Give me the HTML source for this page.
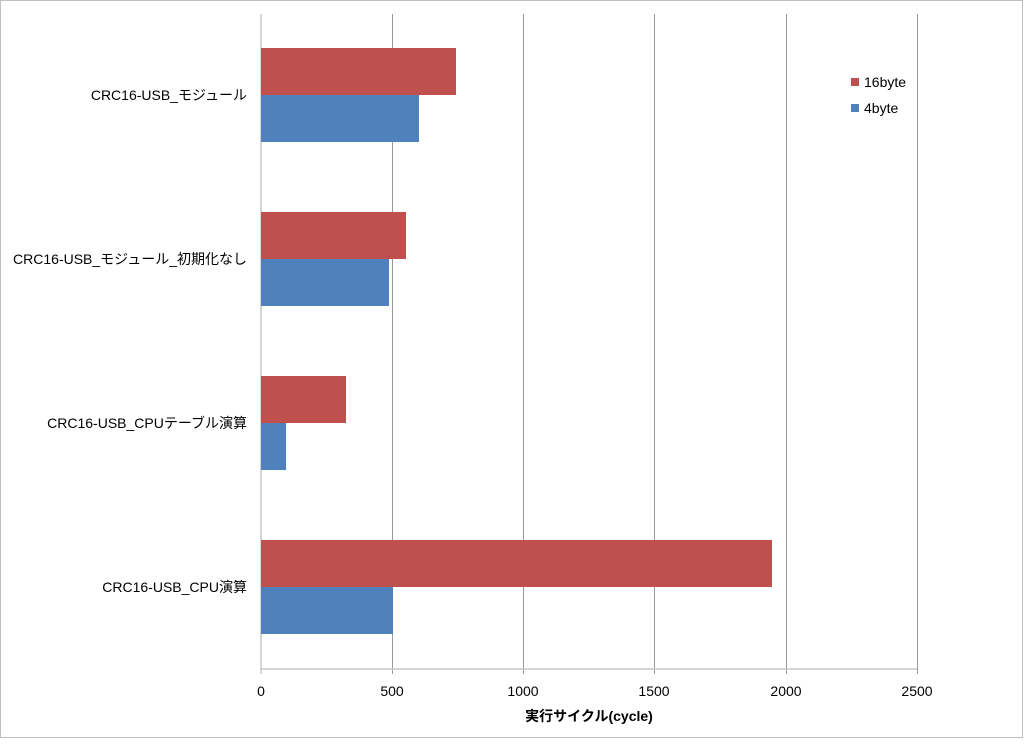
<!DOCTYPE html>
<html><head><meta charset="utf-8"><style>
body{margin:0;background:#fff}
svg text{font-family:"Liberation Sans","Noto Sans CJK JP",sans-serif;font-size:14px;fill:#000}
</style></head><body>
<svg width="1024" height="739" xmlns="http://www.w3.org/2000/svg">
<rect x="0.5" y="0.5" width="1022" height="737" fill="#fff" stroke="#bfbfbf"/>
<g stroke="#9a9a9a" stroke-width="1">
<line x1="392.5" y1="14" x2="392.5" y2="674"/>
<line x1="523.5" y1="14" x2="523.5" y2="674"/>
<line x1="654.5" y1="14" x2="654.5" y2="674"/>
<line x1="786.5" y1="14" x2="786.5" y2="674"/>
<line x1="917.5" y1="14" x2="917.5" y2="674"/>
</g>
<g stroke="#c8c8c8" stroke-width="1.5">
<line x1="261" y1="14" x2="261" y2="674"/>
<line x1="261" y1="669" x2="917" y2="669"/>
</g>
<g fill="#c0504d">
<rect x="261" y="48" width="195" height="47"/>
<rect x="261" y="212" width="145" height="47"/>
<rect x="261" y="376" width="85" height="47"/>
<rect x="261" y="540" width="511" height="47"/>
</g>
<g fill="#4f81bd">
<rect x="261" y="95" width="158" height="47"/>
<rect x="261" y="259" width="128" height="47"/>
<rect x="261" y="423" width="25" height="47"/>
<rect x="261" y="587" width="132" height="47"/>
</g>
<g text-anchor="end">
<text x="247" y="100">CRC16-USB_モジュール</text>
<text x="247" y="264">CRC16-USB_モジュール_初期化なし</text>
<text x="247" y="428">CRC16-USB_CPUテーブル演算</text>
<text x="247" y="592">CRC16-USB_CPU演算</text>
</g>
<g text-anchor="middle">
<text x="261" y="696">0</text>
<text x="392" y="696">500</text>
<text x="523" y="696">1000</text>
<text x="654" y="696">1500</text>
<text x="786" y="696">2000</text>
<text x="917" y="696">2500</text>
<text x="589" y="721" font-weight="bold">実行サイクル(cycle)</text>
</g>
<rect x="851" y="78" width="8" height="8" fill="#c0504d"/>
<text x="864" y="87">16byte</text>
<rect x="851" y="104" width="8" height="8" fill="#4f81bd"/>
<text x="864" y="113">4byte</text>
</svg>
</body></html>
